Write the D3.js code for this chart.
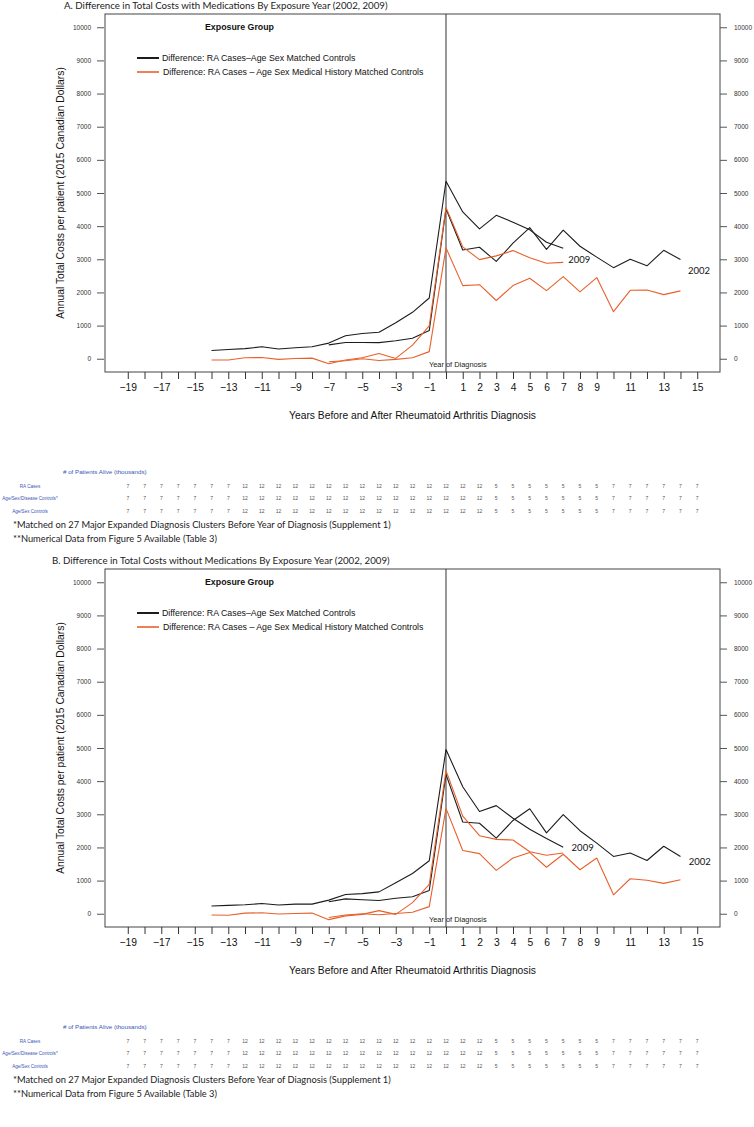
<!DOCTYPE html>
<html>
<head>
<meta charset="utf-8">
<script src="https://cdn.jsdelivr.net/npm/d3@7/dist/d3.min.js"></script>
<style>
  body { margin: 0; background: #fff; }
  svg { display: block; }
</style>
</head>
<body>
<script>
// Years covered by each exposure cohort
const years2009 = [-14, -13, -12, -11, -10, -9, -8, -7, -6, -5, -4, -3, -2, -1, 0, 1, 2, 3, 4, 5, 6, 7];
const years2002 = [-7, -6, -5, -4, -3, -2, -1, 0, 1, 2, 3, 4, 5, 6, 7, 8, 9, 10, 11, 12, 13, 14];

// A. with medications
const withMedBlack2009 = [250, 280, 305, 360, 296, 333, 360, 472, 694, 760, 800, 1084, 1400, 1832, 5355, 4430, 3916, 4327, 4121, 3888, 3514, 3336];
const withMedBlack2002 = [417, 490, 490, 485, 542, 617, 850, 4523, 3280, 3364, 2935, 3486, 3953, 3300, 3879, 3393, 3065, 2748, 3000, 2804, 3271, 2991];
const withMedOrange2009 = [-37, -37, 28, 37, -18, 9, 18, -150, -37, 28, 160, 10, 411, 990, 4560, 3374, 2991, 3103, 3262, 3047, 2879, 2907];
const withMedOrange2002 = [-90, -60, 0, -55, -20, 28, 215, 3346, 2206, 2234, 1757, 2206, 2430, 2056, 2477, 2019, 2449, 1421, 2065, 2075, 1935, 2047];

// B. without medications
const noMedBlack2009 = [234, 252, 271, 308, 262, 290, 290, 411, 579, 607, 660, 935, 1215, 1598, 4953, 3832, 3084, 3262, 2879, 2551, 2271, 2009];
const noMedBlack2002 = [364, 449, 421, 400, 467, 514, 701, 4206, 2766, 2729, 2280, 2813, 3168, 2439, 2991, 2505, 2131, 1729, 1832, 1607, 2037, 1729];
const noMedOrange2009 = [-37, -47, 19, 28, -9, 9, 19, -178, -65, -19, 93, -19, 336, 888, 4318, 2944, 2355, 2243, 2224, 1869, 1766, 1832];
const noMedOrange2002 = [-112, -37, 0, -30, 9, 47, 215, 3178, 1907, 1813, 1308, 1682, 1850, 1402, 1794, 1327, 1682, 570, 1056, 1009, 916, 1028];

// axis ticks
const xTicks = [-19, -18, -17, -16, -15, -14, -13, -12, -11, -10, -9, -8, -7, -6, -5, -4, -3, -2, -1, 0, 1, 2, 3, 4, 5, 6, 7, 8, 9, 10, 11, 12, 13, 14, 15];
const xTickLabels = [-19, -17, -15, -13, -11, -9, -7, -5, -3, -1, 1, 2, 3, 4, 5, 6, 7, 8, 9, 11, 13, 15];
const yTicks = [0, 1000, 2000, 3000, 4000, 5000, 6000, 7000, 8000, 9000, 10000];

// # of patients alive (thousands), one value per year -19..15
const tableRows = ["RA Cases", "Age/Sex/Disease Controls*", "Age/Sex Controls"];
const raCases = [7, 7, 7, 7, 7, 7, 7, 12, 12, 12, 12, 12, 12, 12, 12, 12, 12, 12, 12, 12, 12, 12, 5, 5, 5, 5, 5, 5, 5, 7, 7, 7, 7, 7, 7];
const diseaseControls = [7, 7, 7, 7, 7, 7, 7, 12, 12, 12, 12, 12, 12, 12, 12, 12, 12, 12, 12, 12, 12, 12, 5, 5, 5, 5, 5, 5, 5, 7, 7, 7, 7, 7, 7];
const ageSexControls = [7, 7, 7, 7, 7, 7, 7, 12, 12, 12, 12, 12, 12, 12, 12, 12, 12, 12, 12, 12, 12, 12, 5, 5, 5, 5, 5, 5, 5, 7, 7, 7, 7, 7, 7];

const legendLabels = ["Difference: RA Cases\u2013Age Sex Matched Controls",
                      "Difference: RA Cases \u2013 Age Sex Medical History Matched Controls"];
const footnotes = ["*Matched on 27 Major Expanded Diagnosis Clusters Before Year of Diagnosis (Supplement 1)",
                   "**Numerical Data from Figure 5 Available (Table 3)"];

const BLACK = "#1c1c1c", ORANGE = "#e8612c", BLUE = "#3a56b8";
const rFont = "'Liberation Sans', Arial, sans-serif";
const hFont = "Lato, 'Open Sans', sans-serif";

var svg = d3.select("body").append("svg")
    .attr("width", 754)
    .attr("height", 1127);

// frame and scales shared by both panels (panel-relative coordinates)
var frame = {left: 105, right: 720, top: 14, bottom: 372};
var x = d3.scaleLinear().domain([-20.36, 16.36]).range([frame.left, frame.right]);
var y = d3.scaleLinear().domain([-400, 10400]).range([frame.bottom, frame.top]);

function minus(v) { return v < 0 ? "\u2212" + Math.abs(v) : String(v); }

function drawPanel(offset, cfg) {
  var g = svg.append("g").attr("transform", "translate(0," + offset + ")");

  g.append("text")
      .attr("x", cfg.titleX).attr("y", 9)
      .attr("font-family", hFont).attr("font-size", 9.7)
      .attr("fill", "#222")
      .text(cfg.title);

  // plot frame
  g.append("rect")
      .attr("x", frame.left).attr("y", frame.top)
      .attr("width", frame.right - frame.left)
      .attr("height", frame.bottom - frame.top)
      .attr("fill", "none").attr("stroke", "#444").attr("stroke-width", 1);

  // left and right y axes
  var yl = g.append("g").attr("transform", "translate(" + (frame.left - 1) + ",0)")
      .call(d3.axisLeft(y).tickValues(yTicks).tickSize(7).tickPadding(6).tickFormat(d3.format("d")));
  var yr = g.append("g").attr("transform", "translate(" + frame.right + ",0)")
      .call(d3.axisRight(y).tickValues(yTicks).tickSize(7).tickPadding(7).tickFormat(d3.format("d")));
  [yl, yr].forEach(function(a) {
    a.select(".domain").remove();
    a.selectAll("line").attr("stroke", "#555");
    a.selectAll("text").attr("font-family", rFont).attr("font-size", 6.5).attr("fill", "#333");
  });

  // bottom x axis
  var xa = g.append("g").attr("transform", "translate(0," + frame.bottom + ")")
      .call(d3.axisBottom(x).tickValues(xTicks).tickSize(7).tickPadding(5)
        .tickFormat(function(d) { return xTickLabels.indexOf(d) >= 0 ? minus(d) : ""; }));
  xa.select(".domain").remove();
  xa.selectAll("line").attr("stroke", "#333");
  xa.selectAll("text").attr("font-family", rFont).attr("font-size", 10.3).attr("fill", "#111");

  // year of diagnosis marker
  g.append("line")
      .attr("x1", x(0)).attr("x2", x(0))
      .attr("y1", frame.top).attr("y2", frame.bottom)
      .attr("stroke", "#333").attr("stroke-width", 1);
  g.append("text")
      .attr("x", x(0) - 17).attr("y", frame.bottom - 5)
      .attr("font-family", rFont).attr("font-size", 7.4).attr("fill", "#222")
      .text("Year of Diagnosis");

  // series lines
  var line = d3.line().x(function(d) { return x(d[0]); }).y(function(d) { return y(d[1]); });
  cfg.series.forEach(function(s) {
    g.append("path")
        .datum(d3.zip(s.years, s.values))
        .attr("d", line)
        .attr("fill", "none")
        .attr("stroke", s.color)
        .attr("stroke-width", 1.1)
        .attr("stroke-linejoin", "round");
  });

  // cohort labels
  cfg.yearLabels.forEach(function(l) {
    g.append("text")
        .attr("x", x(l.at[0])).attr("y", y(l.at[1]))
        .attr("dy", "0.35em")
        .attr("font-family", hFont).attr("font-size", 9.5).attr("fill", "#111")
        .text(l.text);
  });

  // legend
  g.append("text")
      .attr("x", 205).attr("y", 30)
      .attr("font-family", rFont).attr("font-size", 8.8).attr("font-weight", "bold")
      .attr("fill", "#111")
      .text("Exposure Group");
  var legendY = [58, 72], legendColors = [BLACK, ORANGE], legendWidths = [2, 1.6];
  legendLabels.forEach(function(lbl, i) {
    g.append("line")
        .attr("x1", 137).attr("x2", 159)
        .attr("y1", legendY[i]).attr("y2", legendY[i])
        .attr("stroke", legendColors[i]).attr("stroke-width", legendWidths[i]);
    g.append("text")
        .attr("x", 162 + i).attr("y", legendY[i] + 3)
        .attr("font-family", rFont).attr("font-size", 8.8).attr("fill", "#111")
        .text(lbl);
  });

  // axis titles
  g.append("text")
      .attr("transform", "translate(64," + ((frame.top + frame.bottom) / 2) + ") rotate(-90)")
      .attr("text-anchor", "middle")
      .attr("font-family", rFont).attr("font-size", 10.3).attr("fill", "#111")
      .text("Annual Total Costs per patient (2015 Canadian Dollars)");
  g.append("text")
      .attr("x", (frame.left + frame.right) / 2).attr("y", 419)
      .attr("text-anchor", "middle")
      .attr("font-family", rFont).attr("font-size", 10.3).attr("fill", "#111")
      .text("Years Before and After Rheumatoid Arthritis Diagnosis");

  // patients alive table
  g.append("text")
      .attr("x", 63).attr("y", 474)
      .attr("font-family", rFont).attr("font-size", 6.2).attr("fill", BLUE)
      .text("# of Patients Alive (thousands)");
  var rowVals = [raCases, diseaseControls, ageSexControls];
  var rowY = [486, 498, 511];
  tableRows.forEach(function(name, r) {
    g.append("text")
        .attr("x", 30).attr("y", rowY[r]).attr("dy", "0.35em")
        .attr("text-anchor", "middle")
        .attr("font-family", rFont).attr("font-size", 4.6).attr("fill", BLUE)
        .text(name);
    g.selectAll(null)
        .data(d3.zip(xTicks, rowVals[r]))
        .enter().append("text")
        .attr("x", function(d) { return x(d[0]); })
        .attr("y", rowY[r]).attr("dy", "0.35em")
        .attr("text-anchor", "middle")
        .attr("font-family", rFont).attr("font-size", 5).attr("fill", "#555")
        .text(function(d) { return d[1]; });
  });

  // footnotes
  footnotes.forEach(function(f, i) {
    g.append("text")
        .attr("x", 13).attr("y", 528 + i * 14)
        .attr("font-family", hFont).attr("font-size", 9.3).attr("fill", "#222")
        .text(f);
  });
}

drawPanel(0, {
  title: "A. Difference in Total Costs with Medications By Exposure Year (2002, 2009)",
  titleX: 64,
  series: [
    {years: years2009, values: withMedBlack2009, color: BLACK},
    {years: years2002, values: withMedBlack2002, color: BLACK},
    {years: years2009, values: withMedOrange2009, color: ORANGE},
    {years: years2002, values: withMedOrange2002, color: ORANGE}
  ],
  yearLabels: [{text: "2009", at: [7.3, 2980]}, {text: "2002", at: [14.45, 2650]}]
});

drawPanel(555, {
  title: "B. Difference in Total Costs without Medications By Exposure Year (2002, 2009)",
  titleX: 52,
  series: [
    {years: years2009, values: noMedBlack2009, color: BLACK},
    {years: years2002, values: noMedBlack2002, color: BLACK},
    {years: years2009, values: noMedOrange2009, color: ORANGE},
    {years: years2002, values: noMedOrange2002, color: ORANGE}
  ],
  yearLabels: [{text: "2009", at: [7.5, 2000]}, {text: "2002", at: [14.5, 1560]}]
});
</script>
</body>
</html>
